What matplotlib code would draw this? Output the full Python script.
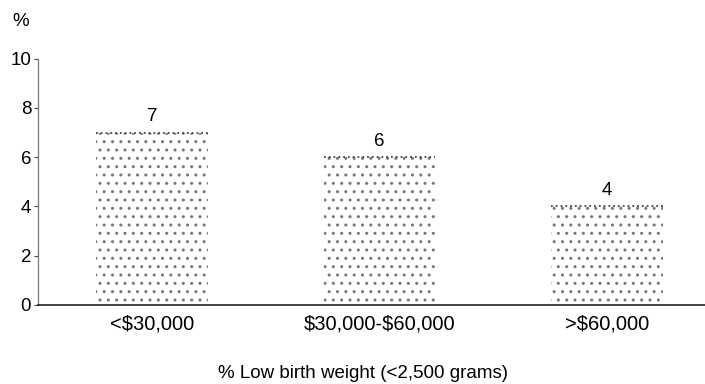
from matplotlib import pyplot as plt

# income groups and % low birth weight
categories = ['<$30,000', '$30,000-$60,000', '>$60,000']
values = [7, 6, 4]

plt.rcParams['font.family'] = ['Liberation Sans', 'DejaVu Sans']
plt.rcParams['text.parse_math'] = False  # keep the $ signs literal
plt.rcParams['hatch.linewidth'] = 1.0

fig = plt.figure(figsize=(7.05, 3.84), dpi=100)
ax = fig.add_axes([0.054, 0.206, 0.946, 0.641])

xpos = range(len(categories))
bars = ax.bar(xpos, values, width=0.49, color='white', edgecolor='#777777',
              linewidth=0, hatch='..')
# dotted top edge of each bar + value label
for b in bars:
    ax.plot([b.get_x(), b.get_x() + b.get_width()], [b.get_height()] * 2,
            color='#444444', lw=1.3, ls=':')
    ax.text(b.get_x() + b.get_width() / 2, b.get_height() + 0.3, int(b.get_height()),
            ha='center', va='bottom', fontsize=13.5)

ax.set_xlim(-0.5, 2.43)
ax.set_ylim(0, 10)
ax.set_yticks([0, 2, 4, 6, 8, 10])
ax.set_xticks(list(xpos))
ax.set_xticklabels(categories, fontsize=14.5)
ax.tick_params(axis='y', labelsize=13.5, length=3, width=0.8, pad=2, color='#444444')
ax.tick_params(axis='x', length=0, pad=7)

for s in ['top', 'right']:
    ax.spines[s].set_visible(False)
ax.spines['left'].set_color('#777777')
ax.spines['left'].set_linestyle((0, (2, 1)))
ax.spines['left'].set_linewidth(0.9)
ax.spines['bottom'].set_color('#222222')
ax.spines['bottom'].set_linewidth(1.2)

fig.text(12 / 705, 1 - 22 / 384, '%', fontsize=13.5, va='center', ha='left')
fig.text(363 / 705, 1 - 374 / 384, '% Low birth weight (<2,500 grams)', fontsize=13.5,
         ha='center', va='center')

fig.savefig('out.png', dpi=100)
